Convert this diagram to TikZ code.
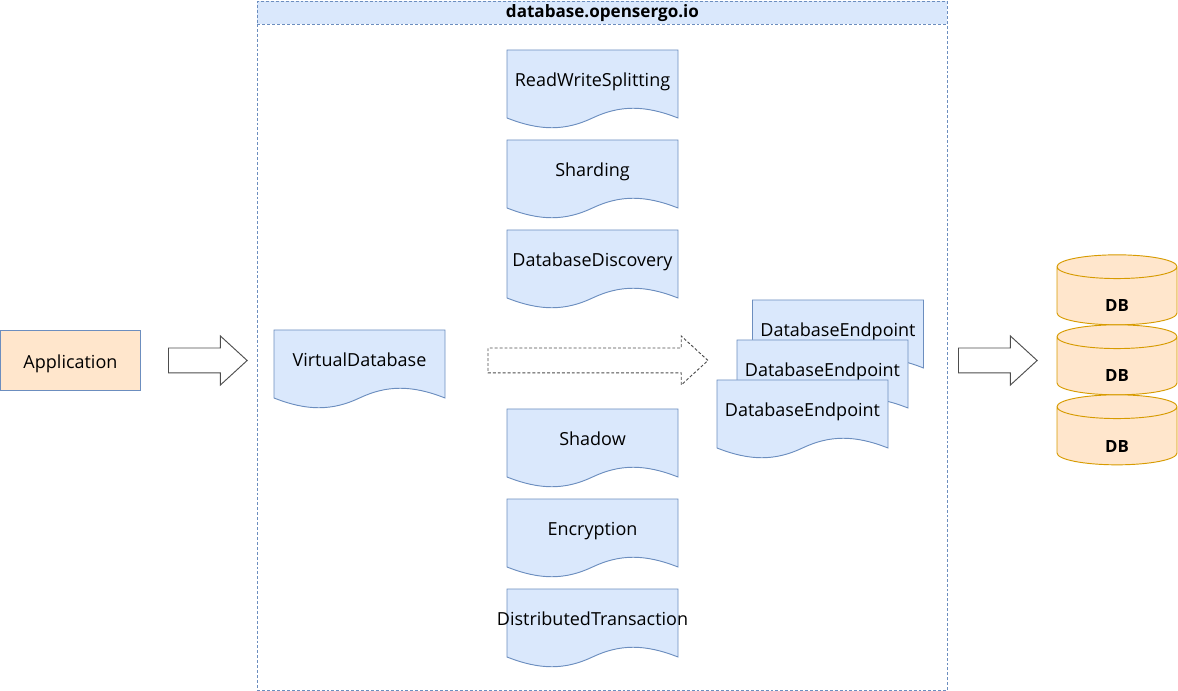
\documentclass[tikz,border=0pt]{standalone}
\usepackage{fontspec}
\setmainfont{Open Sans}
\definecolor{DocBlue}{HTML}{DAE8FC}
\definecolor{EdgeBlue}{HTML}{6C8EBF}
\definecolor{AppOrange}{HTML}{FFE6CC}
\definecolor{DbEdge}{HTML}{D79B00}
\definecolor{ArrowGray}{HTML}{4D4D4D}
\usetikzlibrary{shapes.geometric,shapes.arrows}
\newcommand{\docnode}[4]{%
  \filldraw[docshape] (#2,#3) -- ({#2+171},#3) -- ({#2+171},{#3+68})
    .. controls ({#2+138},{#3+55}) and ({#2+113},{#3+55}) .. ({#2+85.5},{#3+68})
    .. controls ({#2+58},{#3+81}) and ({#2+33},{#3+81}) .. (#2,{#3+68}) -- cycle;
  \node[doclabel] (#1) at ({#2+85.5},{#3+32}) {#4};
}
\newcommand{\dbtext}{\smash{\raisebox{-12pt}{DB}}}

\begin{document}
\begin{tikzpicture}[
      x=0.75pt, y=-0.75pt,
      every node/.style={font=\fontsize{13.5}{15}\selectfont, align=center},
      docshape/.style={draw=EdgeBlue, fill=DocBlue, line width=0.7pt},
      doclabel/.style={inner sep=0pt, text=black, text height=10pt, text depth=3pt},
      frame/.style={rectangle, draw=EdgeBlue, dashed, dash pattern=on 2.2pt off 1.5pt, line width=0.7pt, inner sep=0pt, anchor=north west},
      app/.style={rectangle, draw=EdgeBlue, fill=AppOrange, line width=0.7pt, inner sep=0pt, anchor=north west, minimum width=105pt, minimum height=45pt, text height=12.5pt, text depth=1pt},
      db/.style={cylinder, shape border rotate=90, shape aspect=1, draw=DbEdge, fill=AppOrange, line width=0.7pt, inner sep=0pt, minimum width=90pt, minimum height=52.5pt, font=\fontsize{12.6}{15}\selectfont\bfseries},
      bigarrow/.style={single arrow, draw=ArrowGray, fill=white, line width=0.7pt, inner sep=0pt, inner ysep=9pt, single arrow head extend=9pt, single arrow tip angle=85, anchor=tail},
      dashedarrow/.style={bigarrow, dashed, dash pattern=on 2.2pt off 1.5pt}
    ]
      \useasboundingbox (0,0) rectangle (1178,691);

      \node[frame, minimum width=517.5pt, minimum height=517pt] (domain) at (257,1) {};
      \node[frame, fill=DocBlue, minimum width=517.5pt, minimum height=17pt, font=\fontsize{12.8}{15}\selectfont\bfseries] (domaintitle) at (257,1) {database.opensergo.io};

      \node[app] (application) at (0,330.5) {Application};
      \node[bigarrow, minimum height=59pt] (appflow) at (168,360.5) {};

      \docnode{virtualdb}{274}{330}{VirtualDatabase}
      \docnode{rwsplit}{507}{50}{ReadWriteSplitting}
      \docnode{sharding}{507}{140}{Sharding}
      \docnode{discovery}{507}{230}{DatabaseDiscovery}
      \docnode{shadow}{507}{409}{Shadow}
      \docnode{encryption}{507}{499}{Encryption}
      \docnode{transaction}{507}{589}{DistributedTransaction}
      \node[dashedarrow, minimum height=165pt] (routeflow) at (487.5,360.5) {};

      \docnode{endpointc}{752.5}{300}{DatabaseEndpoint}
      \docnode{endpointb}{737}{340}{DatabaseEndpoint}
      \docnode{endpointa}{717}{380}{DatabaseEndpoint}

      \node[bigarrow, minimum height=59pt] (dbflow) at (958,360.5) {};

      \node[db] (dba) at (1117,296) {\dbtext};
      \node[db] (dbb) at (1117,366) {\dbtext};
      \node[db] (dbc) at (1117,436) {\dbtext};
    \end{tikzpicture}
\end{document}
